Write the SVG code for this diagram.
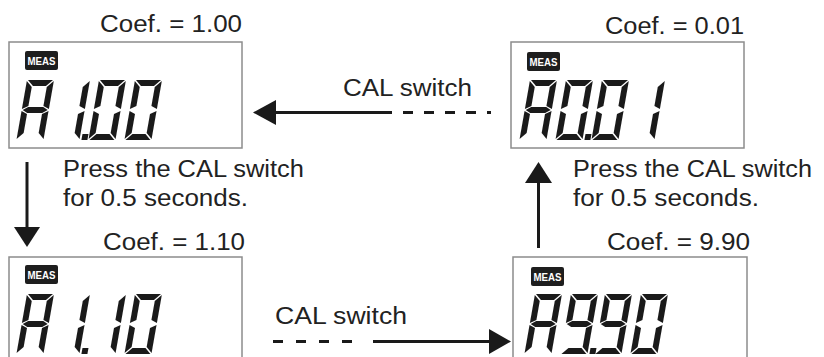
<svg xmlns="http://www.w3.org/2000/svg" xmlns:xlink="http://www.w3.org/1999/xlink" width="824" height="357" viewBox="0 0 824 357">
  <style>
    .lbl { font-family: "Liberation Sans", Arial, sans-serif; font-size: 23px; fill: #222; }
    .box { fill: #fff; stroke: #8c8c8c; stroke-width: 1.5; }
    .badge { fill: #1e1e1e; }
    .badgetxt { font-family: "Liberation Sans", Arial, sans-serif; font-size: 10.5px; font-weight: bold; fill: #fff; }
    .seg { fill: #1a1a1a; }
    .line { stroke: #1a1a1a; stroke-width: 3; fill: none; }
    .dash { stroke: #1a1a1a; stroke-width: 3; fill: none; stroke-dasharray: 10 11; }
    .head { fill: #1a1a1a; }
  </style>
  <defs>
    <polygon id="sa" class="seg" points="1,0 26,0 20,6 7,6"/>
    <polygon id="sb" class="seg" points="27,1 27,29 21,26 21,7"/>
    <polygon id="sc" class="seg" points="27,31 27,59 21,53 21,34"/>
    <polygon id="sd" class="seg" points="1,60 7,54 20,54 26,60"/>
    <polygon id="se" class="seg" points="0,31 6,34 6,53 0,59"/>
    <polygon id="sf" class="seg" points="0,1 6,7 6,26 0,29"/>
    <polygon id="sg" class="seg" points="1,30 6,27 21,27 26,30 21,33 6,33"/>
    <rect id="sp" class="seg" x="29" y="54" width="6" height="6"/>
    <g id="dA"><use xlink:href="#sa"/><use xlink:href="#sb"/><use xlink:href="#sc"/><use xlink:href="#se"/><use xlink:href="#sf"/><use xlink:href="#sg"/></g>
    <g id="d0"><use xlink:href="#sa"/><use xlink:href="#sb"/><use xlink:href="#sc"/><use xlink:href="#sd"/><use xlink:href="#se"/><use xlink:href="#sf"/></g>
    <g id="d1"><use xlink:href="#sb"/><use xlink:href="#sc"/></g>
    <g id="d9"><use xlink:href="#sa"/><use xlink:href="#sb"/><use xlink:href="#sc"/><use xlink:href="#sd"/><use xlink:href="#sf"/><use xlink:href="#sg"/></g>
    <path id="badgeShape" class="badge" d="M2,0 H31 Q33,0 33,2 V17 Q33,19 31,19 H2 Q0,19 0,17 V2 Q0,0 2,0 Z"/>
  </defs>
  <rect width="824" height="357" fill="#fff"/>

  <!-- Node: top-left display, Coef 1.00 -->
  <g id="node-coef-100">
    <text class="lbl" x="100" y="32" textLength="142" lengthAdjust="spacingAndGlyphs">Coef. = 1.00</text>
    <rect class="box" x="9" y="42" width="233" height="106"/>
    <g transform="translate(25,51)"><use xlink:href="#badgeShape"/><text class="badgetxt" x="2.5" y="13.8" textLength="28" lengthAdjust="spacingAndGlyphs">MEAS</text></g>
    <g transform="translate(27,80) skewX(-10)"><use xlink:href="#dA"/></g>
    <g transform="translate(63,80) skewX(-10)"><use xlink:href="#d1"/><use xlink:href="#sp"/></g>
    <g transform="translate(99,80) skewX(-10)"><use xlink:href="#d0"/></g>
    <g transform="translate(135,80) skewX(-10)"><use xlink:href="#d0"/></g>
  </g>

  <!-- Node: top-right display, Coef 0.01 -->
  <g id="node-coef-001">
    <text class="lbl" x="605" y="34" textLength="139" lengthAdjust="spacingAndGlyphs">Coef. = 0.01</text>
    <rect class="box" x="511" y="42" width="233" height="106"/>
    <g transform="translate(527,52)"><use xlink:href="#badgeShape"/><text class="badgetxt" x="2.5" y="13.8" textLength="28" lengthAdjust="spacingAndGlyphs">MEAS</text></g>
    <g transform="translate(530,80) skewX(-10)"><use xlink:href="#dA"/></g>
    <g transform="translate(566,80) skewX(-10)"><use xlink:href="#d0"/><use xlink:href="#sp"/></g>
    <g transform="translate(602,80) skewX(-10)"><use xlink:href="#d0"/></g>
    <g transform="translate(638,80) skewX(-10)"><use xlink:href="#d1"/></g>
  </g>

  <!-- Node: bottom-left display, Coef 1.10 -->
  <g id="node-coef-110">
    <text class="lbl" x="103" y="250" textLength="142" lengthAdjust="spacingAndGlyphs">Coef. = 1.10</text>
    <rect class="box" x="9" y="257" width="233" height="110"/>
    <g transform="translate(25,265)"><use xlink:href="#badgeShape"/><text class="badgetxt" x="2.5" y="13.8" textLength="28" lengthAdjust="spacingAndGlyphs">MEAS</text></g>
    <g transform="translate(27,294) skewX(-10)"><use xlink:href="#dA"/></g>
    <g transform="translate(63,294) skewX(-10)"><use xlink:href="#d1"/><use xlink:href="#sp"/></g>
    <g transform="translate(99,294) skewX(-10)"><use xlink:href="#d1"/></g>
    <g transform="translate(135,294) skewX(-10)"><use xlink:href="#d0"/></g>
  </g>

  <!-- Node: bottom-right display, Coef 9.90 -->
  <g id="node-coef-990">
    <text class="lbl" x="607" y="250" textLength="143" lengthAdjust="spacingAndGlyphs">Coef. = 9.90</text>
    <rect class="box" x="513" y="257" width="234" height="110"/>
    <g transform="translate(531,267)"><use xlink:href="#badgeShape"/><text class="badgetxt" x="2.5" y="13.8" textLength="28" lengthAdjust="spacingAndGlyphs">MEAS</text></g>
    <g transform="translate(535,294) skewX(-10)"><use xlink:href="#dA"/></g>
    <g transform="translate(571,294) skewX(-10)"><use xlink:href="#d9"/><use xlink:href="#sp"/></g>
    <g transform="translate(605,294) skewX(-10)"><use xlink:href="#d9"/></g>
    <g transform="translate(641,294) skewX(-10)"><use xlink:href="#d0"/></g>
  </g>

  <!-- Connectors -->
  <g id="connectors">
    <!-- top: CAL switch, right to left -->
    <text class="lbl" x="343" y="96" textLength="129" lengthAdjust="spacingAndGlyphs">CAL switch</text>
    <line class="dash" x1="403" y1="112.5" x2="491" y2="112.5"/>
    <line class="line" x1="274" y1="112.5" x2="392" y2="112.5"/>
    <polygon class="head" points="253,112.5 276,100 276,125"/>

    <!-- left: down arrow -->
    <line class="line" x1="27" y1="162" x2="27" y2="229"/>
    <polygon class="head" points="27,247 14,227 40,227"/>
    <text class="lbl" x="63" y="177" textLength="241" lengthAdjust="spacingAndGlyphs">Press the CAL switch</text>
    <text class="lbl" x="63" y="206" textLength="185" lengthAdjust="spacingAndGlyphs">for 0.5 seconds.</text>

    <!-- bottom: CAL switch, left to right -->
    <text class="lbl" x="275" y="324" textLength="132" lengthAdjust="spacingAndGlyphs">CAL switch</text>
    <line class="dash" x1="273" y1="341.5" x2="362" y2="341.5" style="stroke-dasharray:10 13"/>
    <line class="line" x1="373" y1="341.5" x2="492" y2="341.5"/>
    <polygon class="head" points="511,341.5 489,329 489,354"/>

    <!-- right: up arrow -->
    <line class="line" x1="538.5" y1="181" x2="538.5" y2="248"/>
    <polygon class="head" points="538.5,162 525,183 552,183"/>
    <text class="lbl" x="573" y="177" textLength="239" lengthAdjust="spacingAndGlyphs">Press the CAL switch</text>
    <text class="lbl" x="573" y="206" textLength="186" lengthAdjust="spacingAndGlyphs">for 0.5 seconds.</text>
  </g>
</svg>
